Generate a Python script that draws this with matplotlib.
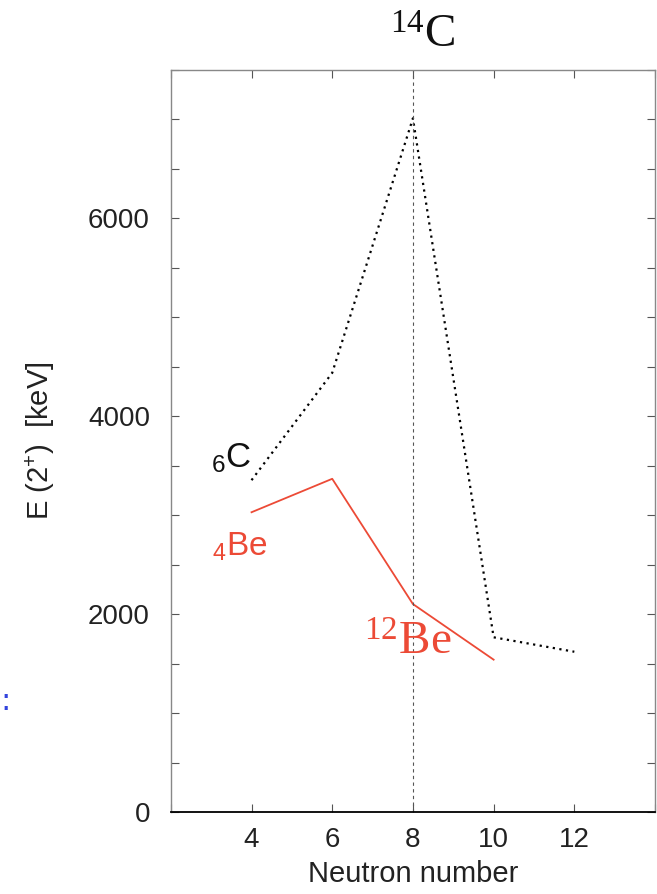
import matplotlib
matplotlib.use('Agg')
import matplotlib.pyplot as plt
from matplotlib.ticker import MultipleLocator, FixedLocator

# E(2+) energies vs neutron number
neutrons_c = [4, 6, 8, 10, 12]
energy_c = [3354, 4439, 7012, 1766, 1620]
neutrons_be = [4, 6, 8, 10]
energy_be = [3030, 3368, 2102, 1540]

x_major = [2, 4, 6, 8, 10, 12, 14]
x_labels = ['', '4', '6', '8', '10', '12', '']
y_major = [0, 2000, 4000, 6000]

red = '#ec4a36'

fig = plt.figure(figsize=(6.57, 8.94), dpi=100)
ax = fig.add_axes([0.260, 0.0917, 0.737, 0.830])

ax.plot(neutrons_c, energy_c, color='black', lw=1.6, linestyle=(0, (1, 2)))
ax.plot(neutrons_be, energy_be, color=red, lw=1.3)
ax.axvline(8, color='#555555', lw=0.8, linestyle=(0, (3, 3)))

ax.set_xlim(2, 14)
ax.set_ylim(0, 7500)
ax.xaxis.set_major_locator(FixedLocator(x_major))
ax.set_xticklabels(x_labels)
ax.yaxis.set_major_locator(FixedLocator(y_major))
ax.yaxis.set_minor_locator(MultipleLocator(500))

ax.tick_params(which='both', direction='in', top=True, right=True,
               length=6, width=0.8, color='#555555')
ax.tick_params(axis='y', which='major', labelsize=20, pad=15)
ax.tick_params(axis='x', which='major', labelsize=20, pad=11)
for lab in ax.get_xticklabels() + ax.get_yticklabels():
    lab.set_fontfamily('Liberation Sans')
    lab.set_color('#222222')

for s in ['left', 'right', 'top']:
    ax.spines[s].set_color('#888888')
    ax.spines[s].set_linewidth(1.0)
ax.spines['bottom'].set_color('black')
ax.spines['bottom'].set_linewidth(1.3)

ax.set_xlabel('Neutron number', fontsize=21, family='Liberation Sans',
              labelpad=5, color='#222222')
ax.set_ylabel(r'E (2$\mathregular{^{+}}$)  [keV]', fontsize=21,
              family='Liberation Sans', labelpad=22, color='#222222')

ax.text(8.25, 7727, r'$\mathregular{^{14}C}$', fontsize=34, family='Liberation Serif',
        ha='center', va='baseline', clip_on=False, color='#111111')
ax.text(3.49, 3485, r'$\mathregular{_6C}$', fontsize=25, family='Liberation Sans',
        ha='center', va='baseline', color='#111111')
ax.text(3.71, 2596, r'$\mathregular{_4Be}$', fontsize=24, family='Liberation Sans',
        color=red, ha='center', va='baseline')
ax.text(7.86, 1586, r'$\mathregular{^{12}Be}$', fontsize=34, family='Liberation Serif',
        color=red, ha='center', va='baseline')

fig.text(0.001, 0.215, ':', fontsize=22, color='#3344dd', ha='left', va='center')

fig.savefig('out.png', dpi=100)
